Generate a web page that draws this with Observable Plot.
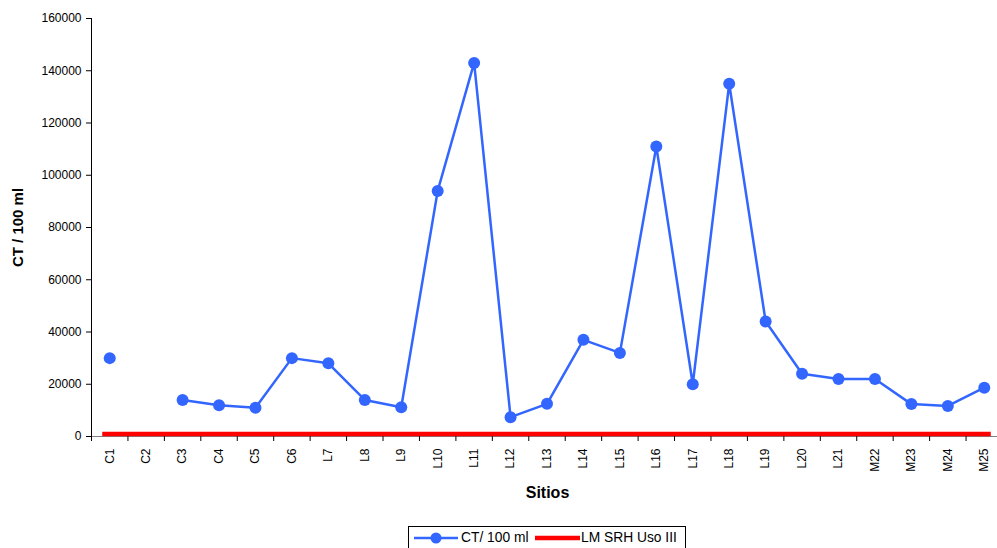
<!DOCTYPE html>
<html>
<head>
<meta charset="utf-8">
<script src="https://cdn.jsdelivr.net/npm/d3@7"></script>
<script src="https://cdn.jsdelivr.net/npm/@observablehq/plot@0.6"></script>
<style>
  body { margin: 0; background: #fff; font-family: "Liberation Sans", Arial, sans-serif; }
  #wrap { position: relative; width: 997px; height: 548px; overflow: hidden; background: #fff; }
  #wrap svg { position: absolute; left: 0; top: 0; }
  .legend { position: absolute; left: 408px; top: 526px; width: 278px; height: 30px;
            border: 1px solid #000; box-sizing: border-box; font-size: 13.8px; color: #000; }
  .legend .item { position: absolute; top: 3px; display: flex; align-items: center; white-space: nowrap; }
  .legend svg { position: static !important; }
</style>
</head>
<body>
<div id="wrap">
  <div class="legend">
    <div class="item" style="left:4px">
      <svg width="46" height="14"><line x1="1" y1="7" x2="45" y2="7" stroke="#3366ff" stroke-width="2.5"/><circle cx="23" cy="7" r="5.5" fill="#3366ff"/></svg>
      <span style="margin-left:2px">CT/ 100 ml</span>
    </div>
    <div class="item" style="left:125px">
      <svg width="47" height="14"><line x1="1" y1="7" x2="46" y2="7" stroke="#ff0000" stroke-width="4.5"/></svg>
      <span>LM SRH Uso III</span>
    </div>
  </div>
</div>
<script>
// Sampling sites along the x axis
const sites = ["C1","C2","C3","C4","C5","C6","L7","L8","L9","L10","L11","L12","L13",
               "L14","L15","L16","L17","L18","L19","L20","L21","M22","M23","M24","M25"];
// Total coliforms (CT per 100 ml); C2 has no measurement
const ct = [30000, null, 14000, 12000, 11000, 30000, 28000, 14000, 11200, 94000, 143000, 7400, 12500,
            37000, 32000, 111000, 20000, 135000, 44000, 24000, 22000, 22000, 12400, 11700, 18700];
// Maximum limit (LM SRH, Uso III)
const limit = 1000;
const yTicks = [0, 20000, 40000, 60000, 80000, 100000, 120000, 140000, 160000];

const data = sites.map((s, i) => ({site: s, ct: ct[i]}));
const blue = "#3366ff";
const xRange = [91, 1002];
const step = (xRange[1] - xRange[0]) / sites.length;
const font = "'Liberation Sans', Arial, sans-serif";

const chart = Plot.plot({
  width: 997,
  height: 548,
  marginTop: 18,
  marginBottom: 112,
  marginLeft: 91,
  marginRight: 0,
  style: {fontFamily: font, fontSize: "12px", color: "#000", background: "white", overflow: "visible"},
  x: {type: "point", domain: sites, range: xRange, padding: 0.5, round: false, label: null},
  y: {domain: [0, 160000], label: null},
  marks: [
    Plot.ruleY([0], {stroke: "#808080", strokeWidth: 1.2}),
    Plot.frame({anchor: "left", stroke: "#000"}),
    Plot.axisY({ticks: yTicks, tickSize: 5, tickPadding: 5, tickFormat: "d", label: null, fontSize: 12}),
    Plot.axisX({tickSize: 5, tickFormat: () => "", dx: -step / 2, label: null}),
    Plot.axisX({tickSize: 0, tickRotate: -90, tickPadding: 12, label: null, fontSize: 12}),
    Plot.ruleY([limit], {x1: [sites[0]], x2: [sites[sites.length - 1]], stroke: "#ff0000", strokeWidth: 4.5, insetLeft: -7, insetRight: -7}),
    Plot.line(data, {x: "site", y: "ct", stroke: blue, strokeWidth: 2.5}),
    Plot.dot(data.filter(d => d.ct != null), {x: "site", y: "ct", r: 6, fill: blue}),
    Plot.text(["Sitios"], {frameAnchor: "bottom", textAnchor: "middle", lineAnchor: "middle", dx: 3, dy: 56, fontSize: 16, fontWeight: "bold"}),
    Plot.text(["CT / 100 ml"], {frameAnchor: "left", textAnchor: "middle", lineAnchor: "middle", rotate: -90, dx: -73, fontSize: 15, fontWeight: "bold"})
  ]
});
document.getElementById("wrap").prepend(chart);
</script>
</body>
</html>
